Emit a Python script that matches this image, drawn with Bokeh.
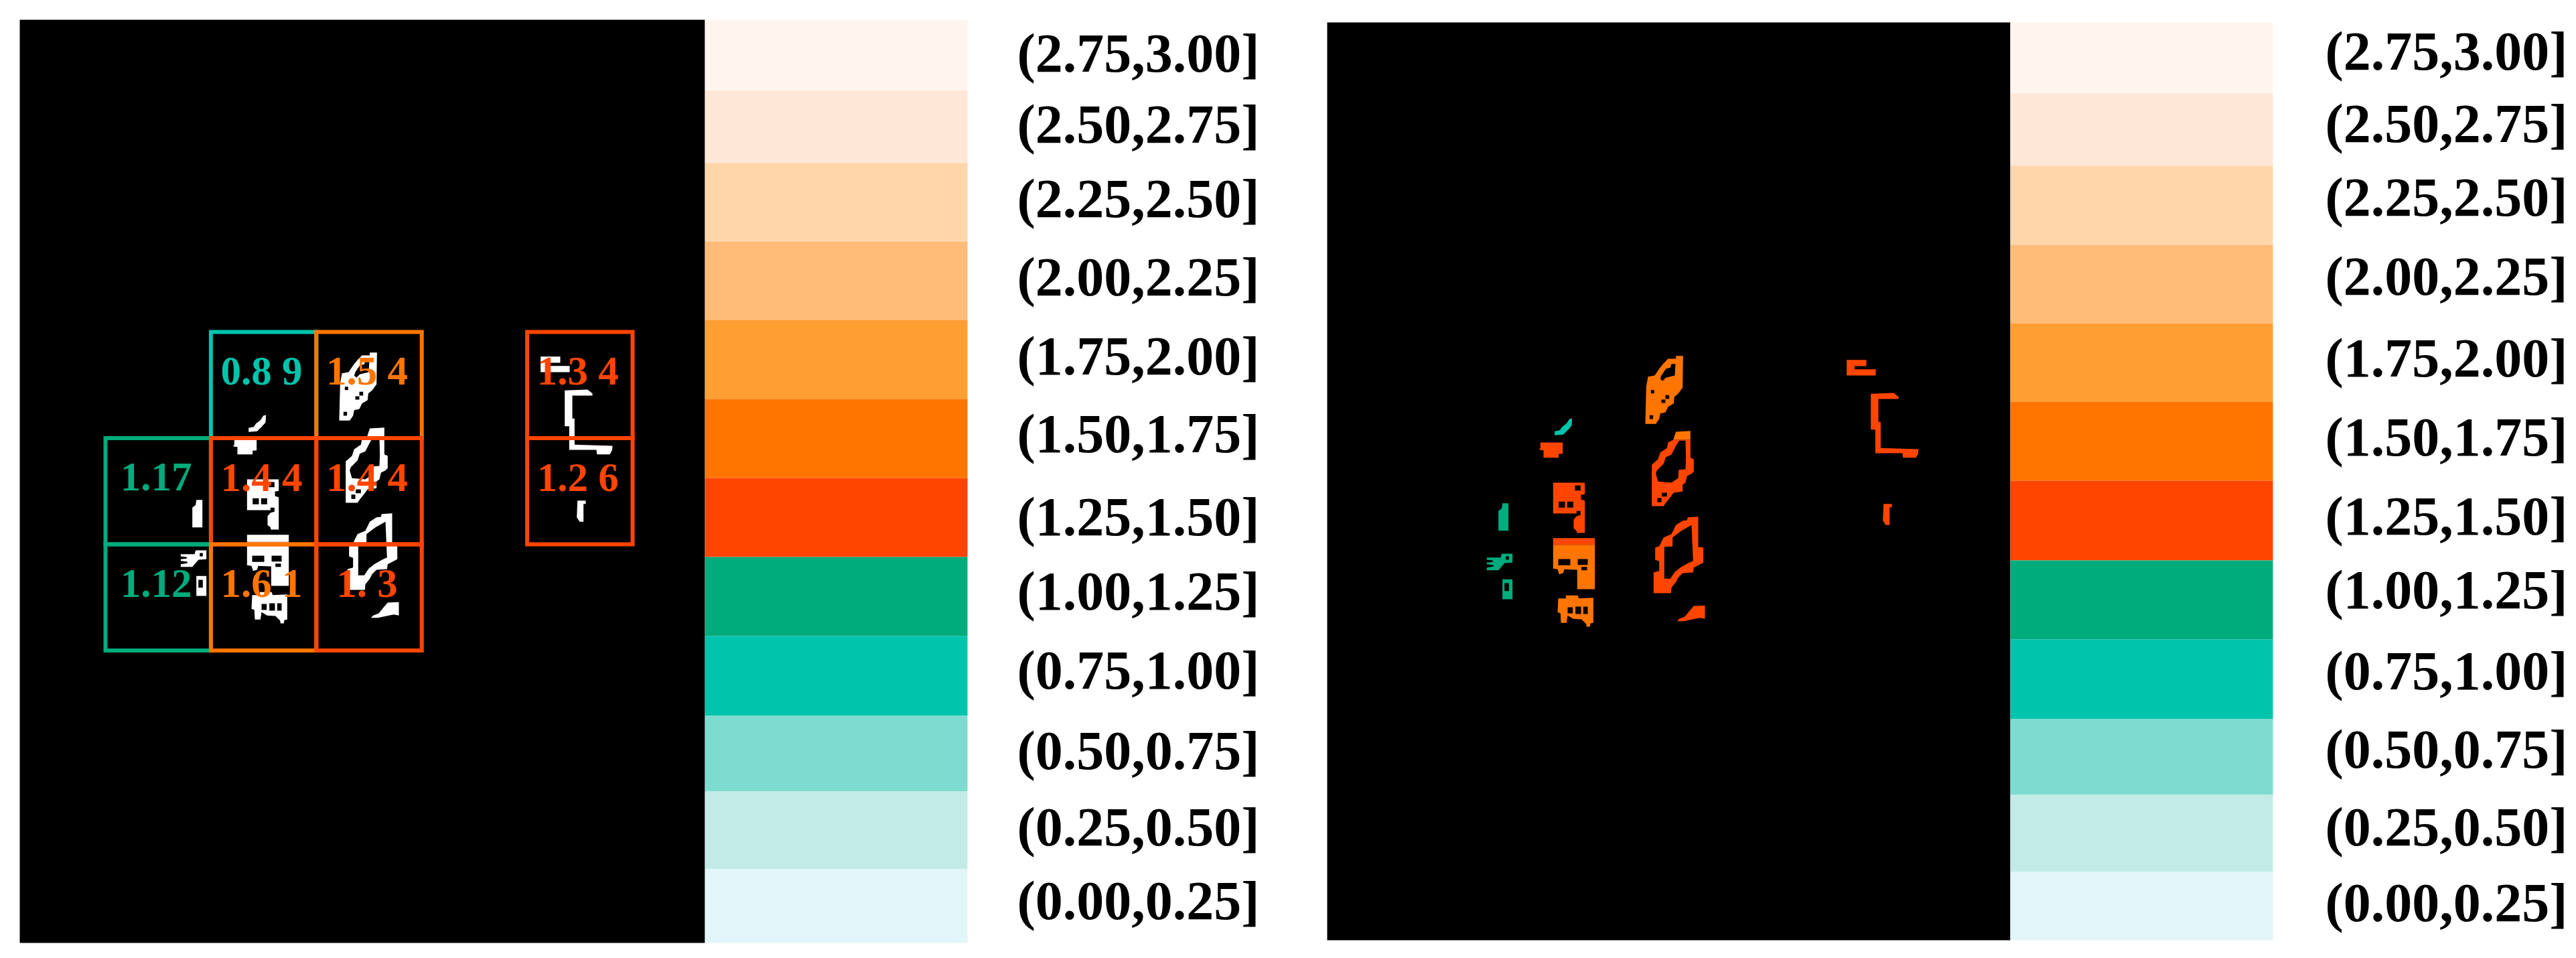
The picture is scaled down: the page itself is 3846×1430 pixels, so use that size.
from bokeh.core.properties import value
from bokeh.embed import file_html
from bokeh.layouts import row
from bokeh.models import ColumnDataSource, Range1d
from bokeh.plotting import figure
from bokeh.resources import INLINE

# ---- data -------------------------------------------------------------
bin_edges = [0.00, 0.25, 0.50, 0.75, 1.00, 1.25, 1.50, 1.75, 2.00, 2.25, 2.50, 2.75, 3.00]
bin_colors = ["#E2F6FA", "#C2EBE8", "#7DDBD0", "#00C4AC", "#00AB7C", "#FF4500",
              "#FF7500", "#FF9E32", "#FFBC78", "#FED6AA", "#FEE7D6", "#FFF5EE"]
bin_labels = [f"({a:.2f},{b:.2f}]" for a, b in zip(bin_edges[:-1], bin_edges[1:])]

cell_cols = [1, 2, 4, 0, 1, 2, 4, 0, 1, 2]
cell_rows = [0, 0, 0, 1, 1, 1, 1, 2, 2, 2]
cell_vals = [0.89, 1.54, 1.34, 1.17, 1.44, 1.44, 1.26, 1.12, 1.61, 1.30]
cell_text = ["0.8 9", "1.5 4", "1.3 4", "1.17", "1.4 4", "1.4 4", "1.2 6", "1.12", "1.6 1", "1. 3"]

# mask regions: (cell index, outer ring, holes), traced in crop coordinates
regions_a = [
    (0, [(362,430),(385,425),(395,410),(415,395),(428,375),(440,372),(438,405),(420,425),(400,445),(362,448)], []),
    (4, [(298,480),(398,480),(398,530),(380,532),(380,548),(312,548),(312,515),(292,512),(298,505)], []),
    (4, [(355,660),(497,660),(497,712),(480,715),(480,735),(497,740),(497,885),(462,885),(460,875),(447,865),
         (447,825),(460,810),(478,805),(478,787),(460,787),(460,798),(355,798)],
        [[(380,745),(408,745),(408,772),(380,772)], [(418,745),(445,745),(445,772),(418,772)],
         [(453,672),(478,672),(478,695),(453,695)]]),
    (3, [(110,875),(110,787),(125,775),(128,752),(155,752),(155,875)], []),
    (7, [(58,995),(120,995),(125,978),(173,978),(173,1018),(138,1020),(120,1040),(110,1052),(58,1052),(58,1040),
         (90,1035),(85,1028),(58,1025),(58,1018),(85,1015),(85,1008),(58,1005)],
        [[(143,990),(157,990),(157,1005),(143,1005)]]),
    (7, [(128,1093),(173,1093),(173,1182),(128,1182)], [[(137,1110),(157,1110),(157,1145),(137,1145)]]),
    (4, [(355,908),(542,908),(542,938),(355,938)], []),
    (8, [(355,938),(542,938),(542,1137),(463,1137),(463,1050),(405,1048),(400,1065),(382,1070),(375,1048),(355,1045)],
        [[(378,1002),(432,1002),(432,1030),(378,1030)], [(465,1002),(510,1002),(510,1028),(465,1028)],
         [(482,1037),(507,1037),(507,1052),(482,1052)]]),
    (8, [(378,1178),(412,1178),(412,1165),(465,1165),(470,1178),(535,1175),(535,1288),(522,1290),(520,1305),(505,1305),
         (503,1292),(482,1272),(445,1270),(420,1255),(415,1288),(390,1288),(388,1245),(375,1240)],
        [[(420,1218),(443,1218),(443,1245),(420,1245)], [(455,1215),(480,1215),(480,1248),(455,1248)],
         [(490,1215),(510,1215),(510,1248),(490,1248)]]),
    (1, [(905,92),(937,92),(935,235),(915,262),(898,275),(895,305),(870,320),(858,345),(835,350),(830,375),(815,397),
         (768,397),(772,230),(780,185),(810,180),(830,150),(850,125),(870,105),(905,105)],
        [[(840,180),(860,150),(880,145),(885,128),(903,128),(900,180),(860,190),(845,205),(835,195)],
         [(793,245),(808,245),(808,260),(793,260)], [(858,268),(875,268),(875,285),(858,285)],
         [(840,288),(858,288),(858,303),(840,303)], [(787,358),(803,358),(803,375),(787,375)]]),
    (1, [(905,432),(970,428),(970,468),(893,468)], []),
    (5, [(893,468),(970,468),(970,548),(985,555),(985,610),(975,620),(955,630),(948,660),(935,670),(935,700),(895,705),
         (880,725),(860,750),(850,765),(797,765),(797,580),(825,555),(835,525),(865,505),(870,480)],
        [[(920,472),(948,472),(950,550),(948,600),(918,602),(915,640),(885,660),(825,655),(815,620),(820,605),(850,575),
          (860,545),(885,535),(905,495)],
         [(822,728),(840,728),(840,748),(822,748)], [(842,705),(865,705),(865,722),(842,722)]]),
    (5, [(958,815),(1005,812),(1005,948),(1028,950),(1028,1018),(985,1040),(982,1062),(935,1065),(915,1085),(905,1105),
         (885,1130),(883,1155),(805,1155),(805,1062),(830,1055),(830,1012),(812,1005),(812,950),(830,945),(850,905),
         (885,890),(905,850),(935,830),(955,828)],
        [[(975,850),(982,1010),(960,1020),(925,1040),(900,1060),(880,1090),(853,1090),(853,948),(890,945),(890,905),(930,875)]]),
    (9, [(910,1280),(920,1270),(945,1260),(965,1235),(985,1212),(1035,1210),(1035,1270),(1012,1265),(940,1280)], []),
]
regions_b = [
    (2, [(170,110),(258,110),(258,138),(205,138),(205,152),(300,152),(300,180),(170,180)], []),
    (2, [(278,262),(380,258),(402,275),(402,285),(312,285),(312,388),(322,388),(322,505),(492,510),(490,530),(480,548),
         (422,548),(420,528),(298,528),(298,422),(278,422)], []),
    (6, [(335,755),(372,755),(372,770),(362,770),(362,850),(345,850),(332,830)], []),
]

# ---- layout (page pixels) ----------------------------------------------
PAGE_H = 1424
GRID_X0, GRID_Y0, GRID_W, GRID_H = 157.0, 495.0, 157.4, 158.5
LEGEND_SIZE, CELL_SIZE = 82, 61
LEGEND_DROP, CELL_DROP = 31, 21     # baseline correction of the text glyphs
LEFT = dict(x0=0, x1=1930, black=(29, 1052, 29, 1407), bar=(1052, 1444), label_x=1518, dx=-1950, dy=-5,
            bands=[29, 135, 243, 360, 477, 595, 713, 831, 949, 1068, 1181, 1297, 1407],
            base=[110, 216, 327, 444, 562, 678, 802, 913, 1031, 1151, 1265, 1375])
RIGHT = dict(x0=1930, x1=3840, black=(1981, 3001, 33, 1403), bar=(3001, 3393), label_x=3471, dx=0, dy=0,
             bands=[33, 139, 247, 365, 482, 599, 717, 836, 954, 1073, 1186, 1301, 1403],
             base=[107, 215, 325, 443, 565, 683, 801, 911, 1032, 1149, 1265, 1378])


def bin_color(v):
    for lo, hi, c in zip(bin_edges[:-1], bin_edges[1:], bin_colors):
        if lo < v <= hi:
            return c
    return bin_colors[-1]


def to_page(pts, ox, oy, dx, dy):
    return [ox + px / 3 + dx for px, _ in pts], [oy + py / 3 + dy for _, py in pts]


def mask_source(g, colored):
    xs, ys, cols = [], [], []
    for regs, ox, oy in ((regions_a, 2200, 500), (regions_b, 2700, 500)):
        for idx, outer, holes in regs:
            rx, ry = [], []
            for ring in [outer] + holes:
                a, b = to_page(ring, ox, oy, g["dx"], g["dy"])
                rx.append(a)
                ry.append(b)
            xs.append([rx])
            ys.append([ry])
            cols.append(bin_color(cell_vals[idx]) if colored else "#FFFFFF")
    return ColumnDataSource(dict(xs=xs, ys=ys, c=cols))


def panel(g, with_grid):
    p = figure(width=g["x1"] - g["x0"], height=PAGE_H, x_range=Range1d(g["x0"], g["x1"]),
               y_range=Range1d(PAGE_H, 0), output_backend="svg", toolbar_location=None,
               x_axis_location=None, y_axis_location=None, min_border=0, outline_line_color=None,
               background_fill_color="white", border_fill_color="white")
    p.grid.visible = False
    xa, xb, ya, yb = g["black"]
    p.quad(left=[xa], right=[xb], top=[ya], bottom=[yb], fill_color="black", line_color=None)

    top_down_colors = bin_colors[::-1]
    top_down_labels = bin_labels[::-1]
    p.quad(left=g["bar"][0], right=g["bar"][1], top=g["bands"][:-1], bottom=g["bands"][1:],
           fill_color=top_down_colors, line_color=None)
    p.text(x=[g["label_x"]] * 12, y=[b - LEGEND_DROP for b in g["base"]], text=top_down_labels,
           text_font=value("Liberation Serif"), text_font_style="bold", text_font_size=f"{LEGEND_SIZE}px",
           text_color="black", text_align="left", text_baseline="alphabetic")

    p.multi_polygons(xs="xs", ys="ys", fill_color="c", line_color=None, source=mask_source(g, not with_grid))

    if with_grid:
        lefts = [GRID_X0 + c * GRID_W for c in cell_cols]
        tops = [GRID_Y0 + r * GRID_H for r in cell_rows]
        colors = [bin_color(v) for v in cell_vals]
        p.quad(left=lefts, right=[a + GRID_W for a in lefts], top=tops, bottom=[a + GRID_H for a in tops],
               fill_color=None, line_color=colors, line_width=6, line_join="miter")
        p.text(x=[a + GRID_W / 2 - 3 for a in lefts], y=[a + GRID_H / 2 - CELL_DROP for a in tops], text=cell_text,
               text_color=colors, text_font=value("Liberation Serif"), text_font_style="bold",
               text_font_size=f"{CELL_SIZE}px", text_align="center", text_baseline="alphabetic")
    return p


page = row(panel(LEFT, True), panel(RIGHT, False), spacing=0)
open("out.html", "w").write(file_html(page, INLINE))
